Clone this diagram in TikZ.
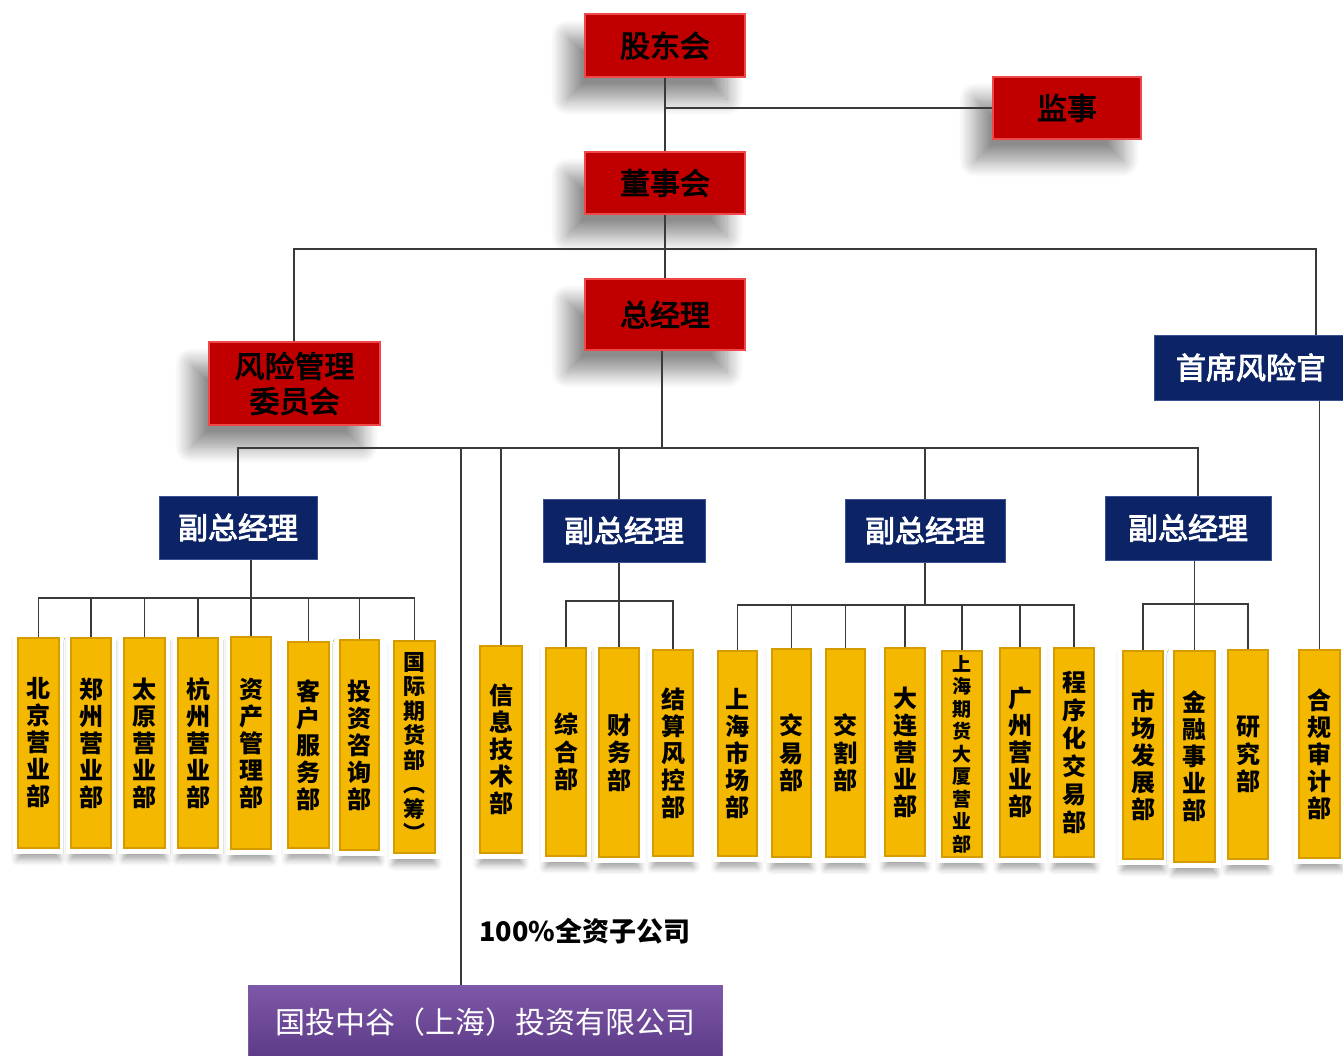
\documentclass[tikz,border=0pt]{standalone}
\usepackage{fontspec}
\setmainfont{Noto Sans CJK SC}
\newfontfamily\semibf{Noto Sans CJK SC}[FakeBold=3]
\usetikzlibrary{shadows.blur,calc}
\definecolor{rd}{HTML}{C00000}
\definecolor{rdedge}{HTML}{F04848}
\definecolor{nv}{HTML}{0C2366}
\definecolor{nvedge}{HTML}{3A5090}
\definecolor{yl}{HTML}{F5B800}
\definecolor{yledge}{HTML}{D49C00}
\definecolor{pptop}{HTML}{7E58A8}
\definecolor{ppbot}{HTML}{5C3A86}
\definecolor{ln}{HTML}{3A3A3A}
\tikzset{
  redbox/.style={blur shadow={shadow xshift=-18pt, shadow yshift=-22pt, shadow blur radius=16pt, shadow blur steps=14, shadow opacity=45},
     draw=rdedge, line width=1.5pt, fill=rd, inner sep=0pt, text=black, align=center,
     font=\fontsize{30}{35}\selectfont\semibf},
  navybox/.style={draw=nvedge, line width=1pt, fill=nv, inner sep=0pt, text=white,
     font=\fontsize{30}{35}\selectfont\semibf},
  dept/.style={blur shadow={shadow xshift=0pt, shadow yshift=-7pt, shadow blur radius=6pt, shadow opacity=35, shadow scale=1.04},
     preaction={draw=white, line width=11pt},
     fill=yl, draw=yledge, line width=1.2pt, inner sep=0pt, align=center, text=black,
     minimum width=40pt, font=\fontsize{24}{27}\selectfont\bfseries},
  subbox/.style={top color=pptop, bottom color=ppbot, draw=pptop, inner sep=0pt, text=white,
     font=\fontsize{30}{35}\selectfont},
  conn/.style={draw=ln, line width=1.3pt},
}
\begin{document}
\begin{tikzpicture}[x=1pt, y=-1pt]
\useasboundingbox (0,0) rectangle (1343,1055);
% top red boxes
\node[redbox, minimum width=160pt, minimum height=63pt] (gd) at (665,45.5) {股东会};
\node[redbox, minimum width=148pt, minimum height=62pt] (js) at (1067,108) {监事};
\node[redbox, minimum width=160pt, minimum height=62pt] (dsh) at (665,183) {董事会};
\node[redbox, minimum width=160pt, minimum height=71pt] (zjl) at (665,314.5) {总经理};
\node[redbox, minimum width=171pt, minimum height=83pt] (fx) at (294.5,383.5) {风险管理\\委员会};
% navy boxes
\node[navybox, minimum width=194pt, minimum height=65pt] (sx) at (1251,367.5) {首席风险官};
\node[navybox, minimum width=158pt, minimum height=63pt] (f1) at (238,527.5) {副总经理};
\node[navybox, minimum width=162pt, minimum height=63pt] (f2) at (624,530.5) {副总经理};
\node[navybox, minimum width=160pt, minimum height=63pt] (f3) at (925,530.5) {副总经理};
\node[navybox, minimum width=166pt, minimum height=64pt] (f4) at (1188,528) {副总经理};
% departments
\node[dept, minimum width=41pt, minimum height=210pt] (bj) at (38.5,743) {北\\京\\营\\业\\部};
\node[dept, minimum height=210pt] (zz) at (91,743) {郑\\州\\营\\业\\部};
\node[dept, minimum width=41pt, minimum height=210pt] (ty) at (144.5,743) {太\\原\\营\\业\\部};
\node[dept, minimum height=210pt] (hz) at (198,743) {杭\\州\\营\\业\\部};
\node[dept, minimum height=212pt] (zc) at (251,743) {资\\产\\管\\理\\部};
\node[dept, minimum width=41pt, minimum height=206pt] (kh) at (308.5,745) {客\\户\\服\\务\\部};
\node[dept, minimum width=39pt, minimum height=210pt] (tz) at (359.5,745) {投\\资\\咨\\询\\部};
\node[dept, minimum width=41pt, minimum height=212pt, font=\fontsize{22}{24.5}\selectfont\bfseries] (gj) at (414.5,747) {国\\际\\期\\货\\部\\︵\\筹\\︶};
\node[dept, minimum width=42pt, minimum height=207pt] (xx) at (501,749.5) {信\\息\\技\\术\\部};
\node[dept, minimum height=208pt, font=\fontsize{24}{27.5}\selectfont\bfseries] (zh) at (566,752) {综\\合\\部};
\node[dept, minimum height=209pt, font=\fontsize{24}{27.5}\selectfont\bfseries] (cw) at (619,752.5) {财\\务\\部};
\node[dept, minimum height=206pt] (jsf) at (673,753) {结\\算\\风\\控\\部};
\node[dept, minimum width=39pt, minimum height=205pt] (shsc) at (737.5,753.5) {上\\海\\市\\场\\部};
\node[dept, minimum width=39pt, minimum height=208pt, font=\fontsize{24}{27.5}\selectfont\bfseries] (jy) at (791.5,753) {交\\易\\部};
\node[dept, minimum width=39pt, minimum height=208pt, font=\fontsize{24}{27.5}\selectfont\bfseries] (jg) at (845.5,753) {交\\割\\部};
\node[dept, minimum height=208pt] (dl) at (905,752) {大\\连\\营\\业\\部};
\node[dept, minimum height=206pt, font=\fontsize{19}{22.5}\selectfont\bfseries] (shqh) at (962,754) {上\\海\\期\\货\\大\\厦\\营\\业\\部};
\node[dept, minimum height=209pt] (gz) at (1020,752.5) {广\\州\\营\\业\\部};
\node[dept, minimum height=209pt, font=\fontsize{24}{28}\selectfont\bfseries] (cx) at (1074,752.5) {程\\序\\化\\交\\易\\部};
\node[dept, minimum height=208pt] (scfz) at (1143,755) {市\\场\\发\\展\\部};
\node[dept, minimum width=41pt, minimum height=211pt] (jr) at (1194.5,756.5) {金\\融\\事\\业\\部};
\node[dept, minimum height=209pt, font=\fontsize{24}{27.5}\selectfont\bfseries] (yj) at (1248,754.5) {研\\究\\部};
\node[dept, minimum width=41pt, minimum height=208pt] (hg) at (1319.5,754) {合\\规\\审\\计\\部};
% subsidiary
\node[subbox, minimum width=474pt, minimum height=74pt] (sub) at (485,1022) {国投中谷（上海）投资有限公司};
\node[font=\fontsize{27}{30}\selectfont\bfseries, inner sep=0pt] (lbl) at (585,931) {100\%全资子公司};
% connectors: top
\coordinate (t1) at (294,249);
\coordinate (t2) at (1316,249);
\draw[conn] (gd.south) -- (dsh.north);
\draw[conn] (gd.south |- js.west) -- (js.west);
\draw[conn] (dsh.south) -- (zjl.north);
\draw[conn] (fx.north -| t1) -- (t1) -- (t2) -- (t2 |- sx.north);
\draw[conn] (hg.north |- sx.south) -- (hg.north);
% middle bus
\coordinate (m0) at (662,448);
\coordinate (b1) at (238,448);
\coordinate (b4) at (1198,448);
\coordinate (bs) at (461,448);
\coordinate (b2) at (619,448);
\draw[conn] (zjl.south -| m0) -- (m0);
\draw[conn] (f1.north -| b1) -- (b1) -- (b4) -- (b4 |- f4.north);
\draw[conn] (bs) -- (bs |- sub.north);
\draw[conn] (xx.north |- b1) -- (xx.north);
\draw[conn] (b2) -- (b2 |- f2.north);
\draw[conn] (f3.north |- b1) -- (f3.north);
% group 1
\coordinate (g1) at (0,598);
\draw[conn] (bj.north) -- (bj.north |- g1) -- (gj.north |- g1) -- (gj.north);
\foreach \n in {zz,ty,hz,kh,tz} \draw[conn] (\n.north) -- (\n.north |- g1);
\draw[conn] (zc.north |- f1.south) -- (zc.north);
% group 2
\coordinate (g2) at (0,601);
\draw[conn] (zh.north) -- (zh.north |- g2) -- (jsf.north |- g2) -- (jsf.north);
\draw[conn] (cw.north |- f2.south) -- (cw.north);
% group 3
\coordinate (g3) at (0,605);
\draw[conn] (shsc.north) -- (shsc.north |- g3) -- (cx.north |- g3) -- (cx.north);
\foreach \n in {jy,jg,dl,shqh,gz} \draw[conn] (\n.north) -- (\n.north |- g3);
\draw[conn] (f3.south) -- (f3.south |- g3);
% group 4
\coordinate (g4) at (0,604);
\draw[conn] (scfz.north) -- (scfz.north |- g4) -- (yj.north |- g4) -- (yj.north);
\draw[conn] (jr.north |- f4.south) -- (jr.north);
\end{tikzpicture}
\end{document}
